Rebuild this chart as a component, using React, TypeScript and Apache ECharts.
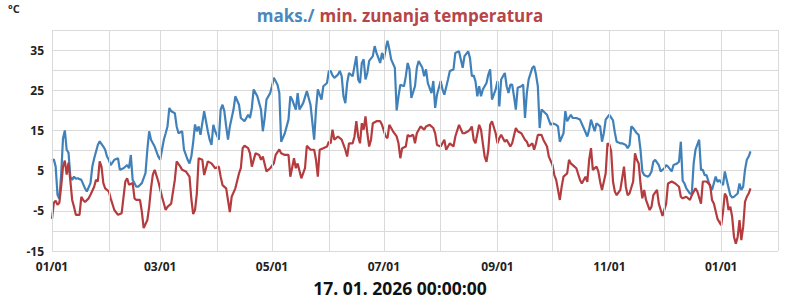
import { useEffect, useRef } from 'react';
import * as echarts from 'echarts';

// Day offsets from 1 Jan 2025 and daily maximum temperatures (°C)
const maxDays = [0,1,2,3,4,5,6,7,8,9,10,11,12,13,14,16,18,19,21,22,23,25,26,28,29,30,31,32,34,36,37,39,41,42,43,44,46,47,49,51,52,53,54,56,58,59,61,62,63,64,65,67,68,69,71,72,74,75,76,77,78,79,80,81,83,84,85,86,87,88,89,91,92,93,94,95,96,97,99,100,102,103,105,107,108,109,110,112,114,115,116,117,119,120,121,123,124,125,127,129,130,131,133,134,135,137,139,141,143,144,145,147,148,150,151,152,153,154,156,157,158,159,160,161,162,164,165,166,167,168,169,170,171,172,173,175,176,177,179,180,181,182,183,184,185,187,188,189,190,192,193,194,195,196,198,199,200,202,203,204,205,207,208,209,210,212,213,214,216,217,219,220,222,224,225,227,228,229,230,231,232,233,234,235,237,238,239,240,242,243,244,245,247,248,249,250,251,252,253,254,256,257,258,259,260,262,263,264,265,266,267,268,270,272,273,275,276,277,279,280,281,283,284,286,288,290,292,293,294,296,297,299,300,301,302,304,306,307,308,310,311,313,314,315,316,317,319,320,321,322,323,325,326,327,328,329,331,332,334,335,336,338,339,341,342,343,344,345,346,348,349,350,351,353,354,355,356,357,359,360,362,363,364,366,367,368,370,371,372,374,375,376,377,378,379,380,381];
const maxValues = [7.5,7.8,6,-1,-2,4,13,15,10.2,9.5,3.5,2.7,3.5,3,3.1,2.7,0.6,-0.2,1.9,6,8,11.4,12.3,11,10.2,8.5,7.7,6.4,7.7,8.1,5.2,5.6,6.4,5.6,8.9,2.7,1,1,1.9,4.4,10.2,14.8,12.7,11,8.5,7.7,12.7,14.3,16,20.6,19.8,19.3,16,14.3,14.8,10.2,7.7,6.8,8.5,12,16.5,14.8,16,13.9,19.8,17.3,14.8,12.7,11.4,16.4,14.8,12.7,20.2,21.4,19.8,16,12.7,16,20.2,23.5,21.4,18.1,17.3,18.9,18.1,20.6,25.2,23.5,20.2,14.8,18.1,22.7,24.3,26,28.1,26.4,24.3,12.2,14.3,17.7,23.5,22.7,20.2,24.3,20.2,21.8,24.8,21.4,12.7,20.2,25.2,22.7,26,26.8,29.8,29.8,28.7,28.1,28.9,29.8,28.5,23.5,21.8,26.8,29.3,28.5,31,33.5,27.7,26.8,31.8,32.7,27.7,29.3,32.3,33.5,36,34.3,31.8,34.3,32.7,35.2,37.3,35.2,32.7,30.6,20,23.5,26.4,26,28.5,31.8,30.2,23.1,26,30.6,32.3,30.6,28.5,30.2,26.8,24.3,27.3,20.6,23.9,27.3,25.2,23.9,27.7,29.8,30.2,34.3,34.7,30.6,33.5,34.7,33,28.5,28.7,27.2,23.5,26,23.5,25.2,26.8,28.9,30.2,22.7,25.2,27.3,21,27.7,29.3,26,24.3,26.4,26.4,23.5,20.2,25.6,26,26.4,18.1,24.3,27.7,30.6,31,28.9,26,15.6,20.2,19.8,18.9,16.4,16.8,16.4,16,12.2,14.3,19.8,17.3,18.9,18.1,18.1,17.7,15.6,13.5,15.2,17.7,14.8,16.8,16,12.2,14.3,17.7,18.9,17.5,14.5,12.2,11.8,11.8,11.4,10.6,11.4,16,15.6,14.3,13.9,10.2,4.8,3.9,3.5,3.9,4.8,7.2,7.7,6.4,4.8,5.6,6.4,6,4.8,6.4,6.8,7.2,12.2,2.5,1.8,0.6,-0.7,-0.7,6.8,10.2,12.7,5.2,5.2,3.9,3.9,1,0.2,3.5,2.2,2.7,1.4,4.8,2.7,-1.1,-1.7,-1.5,-0.7,1.8,0.2,1,5.2,7.7,8.5,9.8];

// Day offsets from 1 Jan 2025 and daily minimum temperatures (°C)
const minDays = [0,1,2,3,4,5,6,7,8,9,10,11,12,13,15,16,17,18,20,21,23,24,25,26,27,28,29,31,32,34,36,38,40,41,42,44,45,46,48,49,50,52,53,54,55,56,58,60,62,63,65,67,68,70,71,73,75,76,77,78,79,80,82,83,85,87,89,91,92,93,95,97,98,100,102,103,104,105,107,108,109,111,113,114,115,117,119,121,122,124,125,127,129,130,132,133,134,136,138,139,141,143,144,145,146,148,150,151,152,153,154,156,158,160,161,162,164,165,166,167,168,169,170,171,172,173,174,175,177,179,180,182,183,184,186,188,189,190,191,193,194,195,197,198,199,201,203,204,206,208,209,210,212,214,215,217,219,220,222,224,225,227,228,229,230,231,233,234,235,236,237,238,239,240,242,243,244,245,247,248,250,251,253,254,256,258,259,260,262,263,264,265,267,268,270,271,273,274,275,276,277,278,279,281,282,283,285,286,288,289,291,292,293,294,295,297,298,299,300,302,303,304,305,306,307,308,310,311,312,313,314,315,317,318,319,320,321,322,323,324,326,327,328,330,331,333,335,336,338,340,342,343,344,346,348,349,351,352,354,355,356,357,359,360,361,363,365,366,367,368,369,370,371,372,373,374,375,376,377,378,379,380,381];
const minValues = [-7,-3,-2.5,-3.5,-3,1,6,7.5,4,7,2.5,-2.3,-4,-6,-6,-1.5,-2.3,-2.8,-1.9,-1,1,2.7,2.3,7.3,6,1.9,0.6,-0.2,-1.9,-4.8,-6,-5.6,2.3,3.1,1.5,1.9,-1.9,-2.3,-2.3,-5.2,-9.3,-7.3,-4,0.6,4,5.2,2.3,-1.5,-4.8,-4,-3.2,2.7,7.3,6,5.2,4.8,3.5,-2,-5.8,-4.8,-0.7,8.1,7.7,3.9,7.3,6.8,5.6,6,3.5,1.4,0.6,-5.3,-1.5,0.6,4.3,5.6,10.6,11.2,10.6,9.3,6,9.3,8.9,7.7,8.5,4.8,5.6,6.8,8.9,10.3,9.3,8.9,8.9,3.5,8.1,5.6,6.8,3.1,5.6,11.2,10.2,10.2,7.7,3.5,10.2,10.6,11,12.2,11.8,15.2,12.7,13.5,12.7,10.2,8.5,11.8,11.8,13.5,17.3,13.5,11.8,16.8,15.2,18.5,14.3,11,12.7,16.8,17.3,17.3,16.4,13.5,13.1,16.4,14.8,13.5,11.8,8.1,10.6,11,13.9,13.5,13.9,11.8,14.3,16,15.2,16,16.4,15.6,14.3,11.4,11,12.7,10.2,11.8,11,13.5,16.4,14.3,14.3,14.8,15.2,16,12.7,11.8,16.4,15.2,11.8,8.5,7.2,10.2,16.4,17.3,14.3,11.8,13.1,13.9,12.2,12.7,11,11.8,15.6,14.8,14.3,12.7,12.2,11,11.8,10.2,11.8,13.9,13.9,12.7,11,8.5,6.4,3.9,2.7,0.2,-2.3,1,3.5,4.3,7.7,6.8,6,5.6,2.7,1.8,3.5,2.2,7.7,10.6,5.2,6,4.8,2.2,0.2,4.3,11.8,11.5,9.8,2.3,-0.2,-1.1,0.2,3.1,6,1,-1.1,-0.7,2.3,9.3,7.7,6.8,1.8,-1.9,0.2,-2.3,-4.8,-4,-1.1,0.2,-3.2,-6.3,-3.2,1.8,2.3,1.8,1,-1.5,-1.9,-1.5,-2.3,-1.1,0.6,-0.2,-3.2,2.3,2.3,2.3,1.4,-2.3,-3.2,-7,-8.6,-5.3,-0.7,-1.5,-4.8,-4,-6.5,-11.5,-13.2,-11.5,-7.3,-12.3,-9,-2.8,-1.5,-0.7,0.6];

const yTickLabels = [-15, -5, 5, 15, 25, 35];
const labelMonths = [[2025, 0], [2025, 2], [2025, 4], [2025, 6], [2025, 8], [2025, 10], [2026, 0]];
const gridMonths = [[2025,0],[2025,1],[2025,2],[2025,3],[2025,4],[2025,5],[2025,6],[2025,7],[2025,8],[2025,9],[2025,10],[2025,11],[2026,0],[2026,1]];
const titleMax = 'maks./';
const titleMin = 'min. zunanja temperatura';
const unitLabel = '°C';
const stampLabel = '17. 01. 2026 00:00:00';

const FONT = 'Open Sans';
const BLUE = '#4181b9';
const RED = '#b43c3e';
const GRID = '#dadada';

const DAY = 86400000;
const BASE = Date.UTC(2025, 0, 1);
const monthDay = (ym: number[]) => Math.round((Date.UTC(ym[0], ym[1], 1) - BASE) / DAY);
const pad = (n: number) => (n < 10 ? '0' + n : '' + n);
const dayLabel = (v: number) => {
  const d = new Date(BASE + Math.round(v) * DAY);
  return pad(d.getUTCMonth() + 1) + '/' + pad(d.getUTCDate());
};

export default function App() {
  const ref = useRef<HTMLDivElement>(null);
  useEffect(() => {
    if (!ref.current) return;
    const chart = echarts.init(ref.current, null, { renderer: 'svg' });
    const maxData = maxDays.map((d, i) => [d, maxValues[i]]);
    const minData = minDays.map((d, i) => [d, minValues[i]]);
    chart.setOption({
      animation: false,
      backgroundColor: '#ffffff',
      title: {
        text: `{a|${titleMax}} {b|${titleMin}}`,
        left: 'center',
        top: 1,
        textStyle: {
          rich: {
            a: { color: '#4a89bd', fontSize: 17, fontWeight: 'bold', fontFamily: FONT },
            b: { color: '#b84447', fontSize: 17, fontWeight: 'bold', fontFamily: FONT },
          },
        },
      },
      graphic: [
        {
          type: 'text',
          left: 8,
          top: 3,
          style: { text: unitLabel, fontSize: 11, fontWeight: 'bold', fontFamily: FONT, fill: '#222' },
        },
        {
          type: 'text',
          left: 'center',
          top: 279,
          style: { text: stampLabel, fontSize: 17.5, fontWeight: 'bold', fontFamily: FONT, fill: '#111' },
        },
      ],
      grid: { left: 52, right: 22, top: 30, bottom: 49, containLabel: false },
      xAxis: {
        type: 'value',
        min: monthDay(gridMonths[0]),
        max: monthDay(gridMonths[gridMonths.length - 1]),
        axisLine: { show: false },
        axisTick: { show: false },
        splitLine: { show: false },
        axisLabel: {
          customValues: labelMonths.map(monthDay),
          formatter: (v: number) => dayLabel(v),
          fontSize: 12,
          lineHeight: 12,
          fontWeight: 'bold',
          fontFamily: FONT,
          color: '#222',
          margin: 9,
          showMinLabel: true,
          showMaxLabel: true,
          hideOverlap: false,
        },
      },
      yAxis: {
        type: 'value',
        min: -15,
        max: 40,
        interval: 5,
        axisLine: { show: false },
        axisTick: { show: false },
        splitLine: { show: true, lineStyle: { color: GRID, width: 1 } },
        axisLabel: {
          formatter: (v: number) => (yTickLabels.includes(v) ? String(v) : ''),
          fontSize: 12,
          lineHeight: 12,
          fontWeight: 'bold',
          fontFamily: FONT,
          color: '#222',
          margin: 8,
        },
      },
      series: [
        {
          type: 'line',
          data: [],
          z: 1,
          silent: true,
          markLine: {
            silent: true,
            symbol: ['none', 'none'],
            label: { show: false },
            lineStyle: { color: GRID, width: 1, type: 'solid' },
            emphasis: { disabled: true },
            data: gridMonths.map((m) => ({ xAxis: monthDay(m) })),
          },
        },
        {
          type: 'line',
          name: 'max',
          data: maxData,
          showSymbol: false,
          clip: false,
          z: 3,
          lineStyle: { color: BLUE, width: 2.2 },
          itemStyle: { color: BLUE },
        },
        {
          type: 'line',
          name: 'min',
          data: minData,
          showSymbol: false,
          clip: false,
          z: 3,
          lineStyle: { color: RED, width: 2.2 },
          itemStyle: { color: RED },
        },
      ],
    });
    return () => chart.dispose();
  }, []);
  return (
    <div
      ref={ref}
      style={{ position: 'fixed', left: 0, top: 0, width: 800, height: 300, background: '#fff' }}
    />
  );
}
